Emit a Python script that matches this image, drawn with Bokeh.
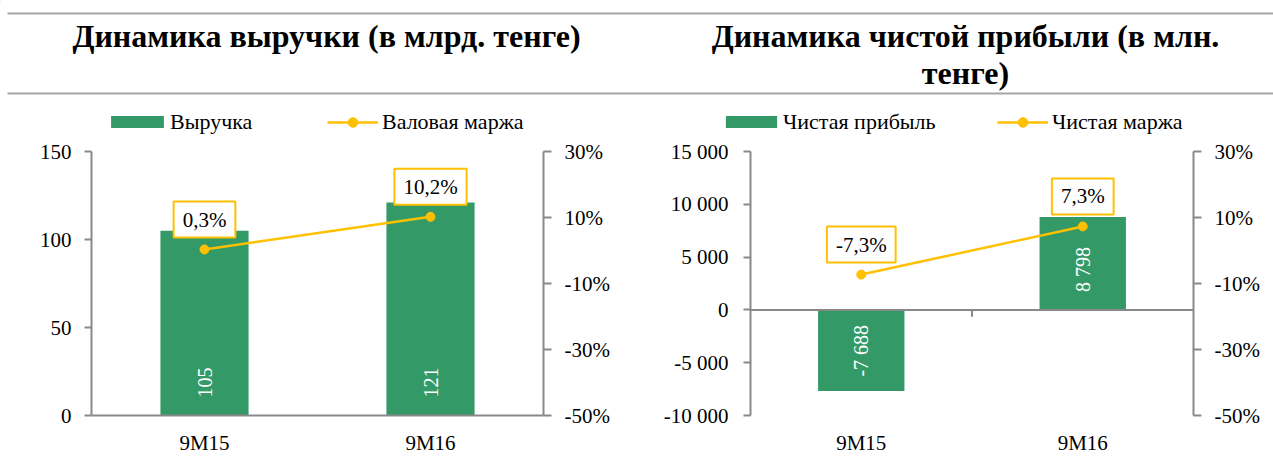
import math
from bokeh.plotting import figure
from bokeh.models import (Range1d, LinearAxis, FixedTicker, NumeralTickFormatter, Legend,
                          LegendItem, Span)
from bokeh.layouts import row, column
from bokeh.embed import file_html
from bokeh.resources import INLINE

# ---------------- data ----------------
categories = ["9M15", "9M16"]
revenue = [105, 121]                 # млрд. тенге
gross_margin = [0.3, 10.2]           # %
net_profit = [-7688, 8798]           # млн. тенге
net_margin = [-7.3, 7.3]             # %
revenue_ticks = [0, 50, 100, 150]
profit_ticks = [-10000, -5000, 0, 5000, 10000, 15000]
pct_ticks = [-50, -30, -10, 10, 30]

title_left = ["Динамика выручки (в млрд. тенге)"]
title_right = ["Динамика чистой прибыли (в млн.", "тенге)"]
legend_left = ["Выручка", "Валовая маржа"]
legend_right = ["Чистая прибыль", "Чистая маржа"]

# ---------------- style / layout ----------------
FONT = "Liberation Serif"
GREEN = "#339966"
GOLD = "#FFC000"
AXIS = "#898989"
RULE = "#A6A6A6"
TOTAL_W = 1273
HEAD_H = 136
CH = 457 - HEAD_H
FS = "21px"


def fmt_num(v):
    return f"{v:,}".replace(",", " ")


def fmt_pct(v):
    return f"{v:.1f}".replace(".", ",") + "%"


def style_axis(ax, standoff, tick_out=7):
    ax.axis_line_color = AXIS
    ax.axis_line_width = 2
    ax.major_tick_line_color = AXIS
    ax.major_tick_line_width = 2
    ax.major_tick_out = tick_out
    ax.major_tick_in = 0
    ax.minor_tick_line_color = None
    ax.major_label_text_font = FONT
    ax.major_label_text_font_size = FS
    ax.major_label_text_color = "black"
    ax.major_label_standoff = standoff


def style_legend(lg):
    lg.padding = 0
    lg.margin = 0
    lg.spacing = 0
    lg.label_height = 24
    lg.border_line_color = None
    lg.background_fill_alpha = 0
    lg.label_text_font = FONT
    lg.label_text_font_size = "22px"
    lg.label_text_color = "black"


# ---------------- header (titles, rules, legends) ----------------
head = figure(width=TOTAL_W, height=HEAD_H, output_backend="svg", toolbar_location=None,
              x_range=Range1d(0, TOTAL_W), y_range=Range1d(HEAD_H, 0),
              x_axis_type=None, y_axis_type=None, min_border=0, tools="")
head.outline_line_color = None
head.grid.visible = False
head.segment(x0=[7, 7], y0=[13, 93], x1=[TOTAL_W, TOTAL_W], y1=[13, 93],
             line_color=RULE, line_width=2)
head.text(x=[326], y=[35], text=title_left, text_align="center", text_baseline="alphabetic",
          text_font=FONT, text_font_style="bold", text_font_size="32px", text_color="black")
head.text(x=[965, 965], y=[35, 72], text=title_right, text_align="center",
          text_baseline="alphabetic", text_font=FONT, text_font_style="bold",
          text_font_size="32px", text_color="black")

# legend keys: same styles as the chart series, kept outside the visible header range
off = [-100, -90]
bar_key = head.vbar(x=off[:1], top=[1], width=1, fill_color=GREEN, line_color=None)
line_key = head.line(x=off, y=[1, 1], line_color=GOLD, line_width=2.5)
dot_key = head.scatter(x=off[:1], y=[1], size=9, fill_color=GOLD, line_color=GOLD)

legend_specs = [
    (legend_left[0], [bar_key], 104, 66, 15, 0),
    (legend_left[1], [line_key, dot_key], 327, 51, 24, 4),
    (legend_right[0], [bar_key], 719, 64, 15, 0),
    (legend_right[1], [line_key, dot_key], 997, 51, 24, 4),
]
for label, rends, lx, gw, gh, so in legend_specs:
    lg = Legend(items=[LegendItem(label=label, renderers=rends)], location=(lx, 1.5),
                glyph_width=gw, glyph_height=gh, label_standoff=so)
    style_legend(lg)
    head.add_layout(lg)


def make_chart(width, bl, br, values, margins, vticks, neg_axis):
    n = len(categories)
    xs = [i + 0.5 for i in range(n)]
    p = figure(width=width, height=CH, output_backend="svg", toolbar_location=None,
               x_range=Range1d(0, n), y_range=Range1d(vticks[0], vticks[-1]),
               min_border_left=bl, min_border_right=br, min_border_top=151 - HEAD_H,
               min_border_bottom=40, tools="")
    p.outline_line_color = None
    p.grid.visible = False
    p.extra_y_ranges = {"pct": Range1d(pct_ticks[0] / 100, pct_ticks[-1] / 100)}

    yl = p.yaxis[0]
    yl.ticker = FixedTicker(ticks=vticks)
    yl.major_label_overrides = {t: fmt_num(t) for t in vticks}
    style_axis(yl, 13 if not neg_axis else 15)

    yr = LinearAxis(y_range_name="pct", ticker=FixedTicker(ticks=[t / 100 for t in pct_ticks]),
                    formatter=NumeralTickFormatter(format="0%"))
    style_axis(yr, 13, 8)
    p.add_layout(yr, "right")

    xa = p.xaxis[0]
    xa.ticker = FixedTicker(ticks=xs)
    xa.major_label_overrides = {x: c for x, c in zip(xs, categories)}
    style_axis(xa, 8)
    xa.major_tick_line_color = None
    if neg_axis:
        xa.axis_line_color = None
        p.add_layout(Span(location=0, dimension="width", line_color=AXIS, line_width=2))
        tick = (vticks[-1] - vticks[0]) * 7 / 266
        mid = [(xs[i] + xs[i + 1]) / 2 for i in range(n - 1)]
        p.segment(x0=mid, y0=[0] * len(mid), x1=mid, y1=[-tick] * len(mid),
                  line_color=AXIS, line_width=2)

    p.vbar(x=xs, top=values, bottom=0, width=0.39, fill_color=GREEN, line_color=None)
    p.text(x=xs, y=[0] * n, text=[fmt_num(v) for v in values],
           angle=math.pi / 2, text_align=["left" if v >= 0 else "right" for v in values],
           text_baseline="middle", y_offset=[-18 if v >= 0 else 15 for v in values],
           text_color="white", text_font=FONT, text_font_size="20px")

    mvals = [m / 100 for m in margins]
    p.line(xs, mvals, y_range_name="pct", line_color=GOLD, line_width=2.5)
    p.scatter(xs, mvals, y_range_name="pct", size=9, fill_color=GOLD, line_color=GOLD)
    p.text(x=xs, y=mvals, text=[fmt_pct(m) for m in margins], y_range_name="pct",
           y_offset=-30, text_align="center", text_baseline="middle",
           text_font=FONT, text_font_size=FS, text_color="black",
           border_line_color=GOLD, border_line_width=2, background_fill_color="white",
           padding=dict(left=9, right=9, top=6, bottom=6))
    return p


p1 = make_chart(640, 91, 97, revenue, gross_margin, revenue_ticks, False)
p2 = make_chart(633, 110, 80, net_profit, net_margin, profit_ticks, True)

layout = column(head, row(p1, p2))
open("out.html", "w").write(file_html(layout, INLINE))
